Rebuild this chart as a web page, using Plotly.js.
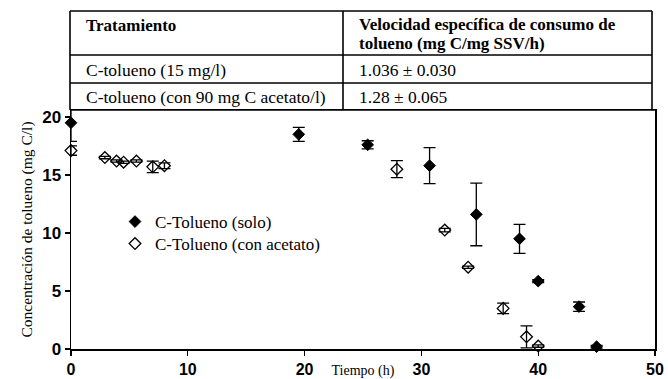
<!DOCTYPE html>
<html>
<head>
<meta charset="utf-8">
<script src="https://cdn.plot.ly/plotly-3.0.1.min.js"></script>
<style>html,body{margin:0;padding:0;background:#fff;}#chart{width:668px;height:379px;}</style>
</head>
<body>
<div id="chart"></div>
<script>
// ---- data ----
const timeSolo = [0, 19.5, 25.4, 30.7, 34.7, 38.4, 40.0, 43.5, 45.0];
const concSolo = [19.5, 18.5, 17.6, 15.8, 11.6, 9.5, 5.85, 3.65, 0.2];
const errSolo  = [1.6, 0.6, 0.35, 1.55, 2.7, 1.25, 0.12, 0.4, 0.12];

const timeAcet = [0, 2.9, 3.9, 4.5, 5.6, 7.0, 8.0, 27.9, 32.0, 34.0, 37.0, 39.0, 40.0];
const concAcet = [17.1, 16.5, 16.2, 16.1, 16.2, 15.7, 15.8, 15.5, 10.25, 7.05, 3.5, 1.05, 0.25];
const errAcet  = [0.4, 0.1, 0.1, 0.1, 0.1, 0.5, 0.25, 0.73, 0.15, 0.1, 0.45, 0.95, 0.1];

const seriesNames = ["C-Tolueno (solo)", "C-Tolueno (con acetato)"];
const xTicks = [0, 10, 20, 30, 40, 50];
const yTicks = [0, 5, 10, 15, 20];

const tableHeader = ["Tratamiento", "Velocidad específica de consumo de", "tolueno (mg C/mg SSV/h)"];
const tableTreatments = ["C-tolueno (15 mg/l)", "C-tolueno (con 90 mg C acetato/l)"];
const tableRates = ["1.036 ± 0.030", "1.28 ± 0.065"];

// ---- layout helpers (pixel -> paper) ----
const L = 71, R = 655, T = 110, B = 349;
const px = x => (x - L) / (R - L);
const py = y => (B - y) / (B - T);

const serif = "Liberation Serif";
const sans = "Liberation Sans";

const traces = [
  {
    x: timeSolo, y: concSolo, name: seriesNames[0], type: "scatter", mode: "markers",
    marker: {symbol: "diamond", size: 9, color: "#000", line: {color: "#000", width: 1}},
    error_y: {type: "data", array: errSolo, visible: true, color: "#000", thickness: 1.3, width: 6},
    cliponaxis: false, legend: "legend"
  },
  {
    x: timeAcet, y: concAcet, name: seriesNames[1], type: "scatter", mode: "markers",
    marker: {symbol: "diamond-open", size: 9, color: "#000", line: {color: "#000", width: 1.3}},
    error_y: {type: "data", array: errAcet, visible: true, color: "#000", thickness: 1.3, width: 6},
    cliponaxis: false, legend: "legend2"
  }
];

const shapes = [];
const lw = 1.6;
function line(x0, y0, x1, y1, w) {
  shapes.push({type: "line", xref: "paper", yref: "paper", x0: px(x0), y0: py(y0), x1: px(x1), y1: py(y1),
    line: {color: "#000", width: w || lw}});
}
// table borders
line(70, 11, 652, 11);
line(70, 11, 70, 110);
line(652, 11, 652, 110);
line(343, 11, 343, 110);
line(70, 55, 652, 55);
line(70, 83, 652, 83);
line(70, 110, 655, 110);

const annotations = [];
function txt(s, x, y, bold, size) {
  annotations.push({text: bold ? "<b>" + s + "</b>" : s, xref: "paper", yref: "paper",
    x: px(x), y: py(y), xanchor: "left", yanchor: "middle", showarrow: false,
    font: {family: serif, size: size, color: "#000"}});
}
txt(tableHeader[0], 84, 25, true, 17);
txt(tableHeader[1], 357, 24, true, 17);
txt(tableHeader[2], 357, 43, true, 17);
txt(tableTreatments[0], 84, 70, false, 17.5);
txt(tableRates[0], 357, 70, false, 17.5);
txt(tableTreatments[1], 84, 97, false, 17.5);
txt(tableRates[1], 357, 97, false, 17.5);

const layout = {
  width: 668, height: 379,
  margin: {l: L, r: 668 - R, t: T, b: 379 - B},
  paper_bgcolor: "#fff", plot_bgcolor: "#fff",
  showlegend: true,
  xaxis: {
    range: [0, 50], tickvals: xTicks, ticktext: xTicks.map(String),
    showgrid: false, zeroline: false, showline: true, linecolor: "#000", linewidth: 1.5,
    mirror: true, ticks: "outside", ticklen: 5, tickwidth: 1.3, tickcolor: "#000",
    tickfont: {family: sans, size: 16, color: "#000", weight: "bold"},
    title: {text: "Tiempo (h)", font: {family: serif, size: 14, color: "#000"}, standoff: 0}
  },
  yaxis: {
    range: [0, 20.6], tickvals: yTicks, ticktext: yTicks.map(String),
    showgrid: false, zeroline: false, showline: true, linecolor: "#000", linewidth: 1.5,
    mirror: true, ticks: "outside", ticklen: 5, tickwidth: 1.3, tickcolor: "#000",
    tickfont: {family: sans, size: 17, color: "#000", weight: "bold"},
    title: {text: "Concentración de tolueno (mg C/l)", font: {family: serif, size: 15.5, color: "#000"}, standoff: 6}
  },
  legend: {x: px(115), y: py(222), xanchor: "left", yanchor: "middle", bgcolor: "rgba(0,0,0,0)",
    font: {family: serif, size: 17, color: "#000"}, borderwidth: 0},
  legend2: {x: px(115), y: py(244), xanchor: "left", yanchor: "middle", bgcolor: "rgba(0,0,0,0)",
    font: {family: serif, size: 17, color: "#000"}, borderwidth: 0},
  shapes: shapes,
  annotations: annotations
};

Plotly.newPlot("chart", traces, layout, {displayModeBar: false, staticPlot: true});
</script>
</body>
</html>
